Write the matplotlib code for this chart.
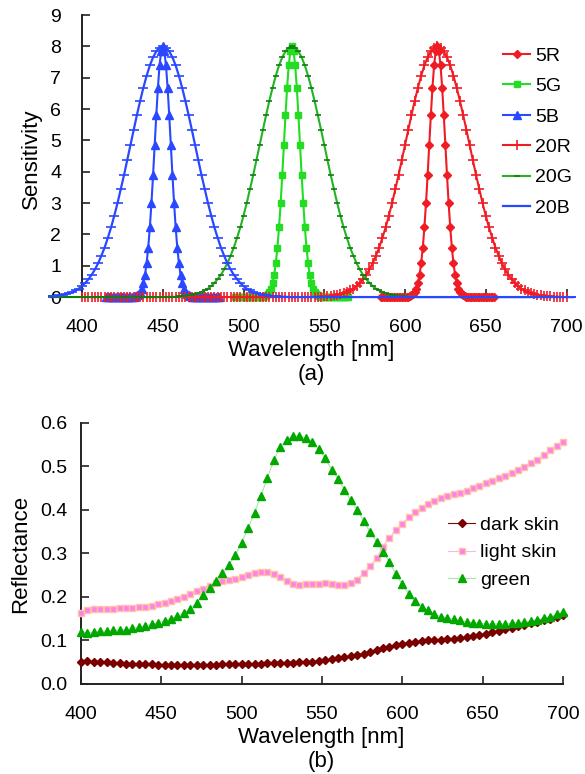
import numpy as np
import matplotlib
matplotlib.use('Agg')
import matplotlib.pyplot as plt

plt.rcParams['font.family'] = ['Liberation Sans', 'DejaVu Sans']

# ---- (a) sensor sensitivities ----
# narrow curves (5): 1 nm steps, +-35 nm around the peak
wl_5R = np.arange(585, 656)
wl_5G = np.arange(495, 566)
wl_5B = np.arange(415, 486)
sens_5 = [0, 0, 0, 0, 0, 0, 0, 0, 0, 0,
          0, 0, 0, 0, 0, 0, 0.01, 0.01, 0.02, 0.05,
          0.09, 0.16, 0.27, 0.45, 0.71, 1.08, 1.58, 2.22, 3.00, 3.89,
          4.85, 5.81, 6.68, 7.39, 7.84, 8.00, 7.84, 7.39, 6.68, 5.81,
          4.85, 3.89, 3.00, 2.22, 1.58, 1.08, 0.71, 0.45, 0.27, 0.16,
          0.09, 0.05, 0.02, 0.01, 0.01, 0, 0, 0, 0, 0,
          0, 0, 0, 0, 0, 0, 0, 0, 0, 0, 0]

# wide curves (20): 2 nm steps
wl_20R = np.arange(400, 701, 2)
sens_20R = [0, 0, 0, 0, 0, 0, 0, 0, 0, 0,
            0, 0, 0, 0, 0, 0, 0, 0, 0, 0,
            0, 0, 0, 0, 0, 0, 0, 0, 0, 0,
            0, 0, 0, 0, 0, 0, 0, 0, 0, 0,
            0, 0, 0, 0, 0, 0, 0, 0, 0, 0,
            0, 0, 0, 0, 0, 0, 0, 0, 0, 0,
            0, 0, 0, 0, 0, 0, 0, 0, 0, 0,
            0, 0, 0.01, 0.01, 0.01, 0.02, 0.02, 0.03, 0.05, 0.07,
            0.09, 0.12, 0.16, 0.21, 0.27, 0.35, 0.45, 0.57, 0.71, 0.88,
            1.08, 1.32, 1.58, 1.89, 2.22, 2.60, 3.00, 3.44, 3.89, 4.37,
            4.85, 5.34, 5.81, 6.26, 6.68, 7.06, 7.39, 7.65, 7.84, 7.96,
            8.00, 7.96, 7.84, 7.65, 7.39, 7.06, 6.68, 6.26, 5.81, 5.34,
            4.85, 4.37, 3.89, 3.44, 3.00, 2.60, 2.22, 1.89, 1.58, 1.32,
            1.08, 0.88, 0.71, 0.57, 0.45, 0.35, 0.27, 0.21, 0.16, 0.12,
            0.09, 0.07, 0.05, 0.03, 0.02, 0.02, 0.01, 0.01, 0.01, 0,
            0]

wl_20G = np.arange(380, 705, 2)
sens_20G = [0, 0, 0, 0, 0, 0, 0, 0, 0, 0,
            0, 0, 0, 0, 0, 0, 0, 0, 0, 0,
            0, 0, 0, 0, 0, 0, 0, 0, 0, 0,
            0, 0, 0, 0, 0, 0, 0, 0.01, 0.01, 0.01,
            0.02, 0.02, 0.03, 0.05, 0.07, 0.09, 0.12, 0.16, 0.21, 0.27,
            0.35, 0.45, 0.57, 0.71, 0.88, 1.08, 1.32, 1.58, 1.89, 2.22,
            2.60, 3.00, 3.44, 3.89, 4.37, 4.85, 5.34, 5.81, 6.26, 6.68,
            7.06, 7.39, 7.65, 7.84, 7.96, 8.00, 7.96, 7.84, 7.65, 7.39,
            7.06, 6.68, 6.26, 5.81, 5.34, 4.85, 4.37, 3.89, 3.44, 3.00,
            2.60, 2.22, 1.89, 1.58, 1.32, 1.08, 0.88, 0.71, 0.57, 0.45,
            0.35, 0.27, 0.21, 0.16, 0.12, 0.09, 0.07, 0.05, 0.03, 0.02,
            0.02, 0.01, 0.01, 0.01, 0, 0, 0, 0, 0, 0,
            0, 0, 0, 0, 0, 0, 0, 0, 0, 0,
            0, 0, 0, 0, 0, 0, 0, 0, 0, 0,
            0, 0, 0, 0, 0, 0, 0, 0, 0, 0,
            0, 0, 0, 0, 0, 0, 0, 0, 0, 0,
            0, 0, 0]

wl_20B = np.arange(380, 705, 2)
sens_20B = [0.02, 0.02, 0.03, 0.05, 0.07, 0.09, 0.12, 0.16, 0.21, 0.27,
            0.35, 0.45, 0.57, 0.71, 0.88, 1.08, 1.32, 1.58, 1.89, 2.22,
            2.60, 3.00, 3.44, 3.89, 4.37, 4.85, 5.34, 5.81, 6.26, 6.68,
            7.06, 7.39, 7.65, 7.84, 7.96, 8.00, 7.96, 7.84, 7.65, 7.39,
            7.06, 6.68, 6.26, 5.81, 5.34, 4.85, 4.37, 3.89, 3.44, 3.00,
            2.60, 2.22, 1.89, 1.58, 1.32, 1.08, 0.88, 0.71, 0.57, 0.45,
            0.35, 0.27, 0.21, 0.16, 0.12, 0.09, 0.07, 0.05, 0.03, 0.02,
            0.02, 0.01, 0.01, 0.01, 0, 0, 0, 0, 0, 0,
            0, 0, 0, 0, 0, 0, 0, 0, 0, 0,
            0, 0, 0, 0, 0, 0, 0, 0, 0, 0,
            0, 0, 0, 0, 0, 0, 0, 0, 0, 0,
            0, 0, 0, 0, 0, 0, 0, 0, 0, 0,
            0, 0, 0, 0, 0, 0, 0, 0, 0, 0,
            0, 0, 0, 0, 0, 0, 0, 0, 0, 0,
            0, 0, 0, 0, 0, 0, 0, 0, 0, 0,
            0, 0, 0, 0, 0, 0, 0, 0, 0, 0,
            0, 0, 0]

# ---- (b) patch reflectances, 4 nm steps ----
wl_refl = np.arange(400, 701, 4)
dark_skin = [0.051, 0.052, 0.051, 0.050, 0.050, 0.049, 0.048, 0.047, 0.047, 0.046,
             0.045, 0.045, 0.044, 0.044, 0.044, 0.044, 0.044, 0.044, 0.044, 0.044,
             0.044, 0.044, 0.045, 0.045, 0.045, 0.046, 0.046, 0.047, 0.047, 0.048,
             0.048, 0.048, 0.049, 0.049, 0.050, 0.051, 0.051, 0.052, 0.054, 0.057,
             0.059, 0.062, 0.064, 0.067, 0.070, 0.074, 0.078, 0.082, 0.086, 0.089,
             0.092, 0.095, 0.097, 0.099, 0.100, 0.101, 0.102, 0.103, 0.104, 0.106,
             0.108, 0.110, 0.113, 0.116, 0.119, 0.122, 0.126, 0.129, 0.133, 0.136,
             0.140, 0.143, 0.146, 0.150, 0.154, 0.159]
light_skin = [0.163, 0.169, 0.172, 0.173, 0.173, 0.173, 0.175, 0.175, 0.175, 0.176,
              0.178, 0.180, 0.184, 0.186, 0.190, 0.195, 0.199, 0.207, 0.214, 0.218,
              0.226, 0.233, 0.237, 0.239, 0.242, 0.247, 0.251, 0.254, 0.258, 0.258,
              0.253, 0.247, 0.237, 0.231, 0.228, 0.229, 0.231, 0.231, 0.232, 0.230,
              0.228, 0.228, 0.232, 0.240, 0.255, 0.271, 0.289, 0.316, 0.336, 0.354,
              0.368, 0.384, 0.395, 0.404, 0.413, 0.421, 0.427, 0.432, 0.436, 0.440,
              0.444, 0.450, 0.455, 0.461, 0.467, 0.473, 0.478, 0.484, 0.491, 0.499,
              0.507, 0.516, 0.526, 0.537, 0.548, 0.557]
green = [0.120, 0.118, 0.119, 0.121, 0.122, 0.123, 0.124, 0.125, 0.128, 0.131,
         0.134, 0.137, 0.141, 0.145, 0.150, 0.156, 0.163, 0.172, 0.187, 0.205,
         0.220, 0.236, 0.254, 0.273, 0.296, 0.325, 0.358, 0.394, 0.432, 0.474,
         0.514, 0.545, 0.561, 0.570, 0.570, 0.565, 0.556, 0.540, 0.519, 0.493,
         0.472, 0.446, 0.422, 0.400, 0.375, 0.349, 0.327, 0.304, 0.280, 0.253,
         0.229, 0.208, 0.191, 0.178, 0.169, 0.161, 0.155, 0.152, 0.149, 0.146,
         0.143, 0.141, 0.140, 0.138, 0.138, 0.138, 0.138, 0.140, 0.141, 0.143,
         0.145, 0.148, 0.151, 0.155, 0.160, 0.165]

RED = '#f01c24'
GRN = '#22dd22'
GRN2 = '#22b422'
BLU = '#2a48ff'

fig = plt.figure(figsize=(5.85, 7.74), dpi=100)

def style_axes(ax, ylo, yhi, ypad):
    for s in ['top', 'right']:
        ax.spines[s].set_visible(False)
    ax.spines['left'].set_position(('data', 400))
    ax.spines['bottom'].set_position(('data', 0))
    ax.spines['left'].set_bounds(ylo, yhi)
    ax.spines['bottom'].set_bounds(400, 700)
    for s in ['left', 'bottom']:
        ax.spines[s].set_linewidth(1.4)
        ax.spines[s].set_color('#222222')
        ax.spines[s].set_zorder(1)
    ax.tick_params(direction='in', length=6, width=1.2, colors='#222222',
                   labelsize=14, labelcolor='black')
    ax.tick_params(axis='x', pad=16)
    ax.tick_params(axis='y', pad=ypad)
    ax.set_xticks(np.arange(400, 701, 50))

# top panel
ax1 = fig.add_axes([0.0822, 0.6081, 0.900, 0.3725])
ax1.plot(wl_5R, sens_5, color=RED, lw=1.5, marker='D', ms=4.5, label='5R', zorder=3)
ax1.plot(wl_5G, sens_5, color=GRN, lw=1.5, marker='s', ms=4.5, label='5G', zorder=3)
ax1.plot(wl_5B, sens_5, color=BLU, lw=1.5, marker='^', ms=5.5, label='5B', zorder=3)
ax1.plot(wl_20R, sens_20R, color=RED, lw=1.5, marker='+', ms=7, mew=1.2,
         label='20R', zorder=3)
ax1.plot(wl_20G, sens_20G, color=GRN2, lw=1.5, marker='_', ms=4, mew=1.2,
         mec='#137a13', label='20G', zorder=3)
ax1.plot(wl_20B, sens_20B, color=BLU, lw=1.6, marker='_', ms=7, mew=1.2,
         label='20B', zorder=3)
ax1.set_xlim(379, 705)
ax1.set_ylim(-0.2, 9.0)
ax1.set_yticks(range(0, 10))
style_axes(ax1, 0, 9, 15)
ax1.set_xlabel('Wavelength [nm]\n(a)', fontsize=16, labelpad=3, linespacing=1.15)
ax1.set_ylabel('Sensitivity', fontsize=16, labelpad=6)
ax1.legend(loc='upper left', bbox_to_anchor=(503 / 585, 1 - 47 / 774),
           bbox_transform=fig.transFigure, frameon=False, fontsize=14,
           handlelength=1.4, handletextpad=0.25, labelspacing=0.66,
           borderpad=0, borderaxespad=0)

# bottom panel
ax2 = fig.add_axes([0.1275, 0.1163, 0.8444, 0.3372])
ax2.plot(wl_refl, dark_skin, color='#7a0a0a', lw=0.8, marker='D', ms=4.5,
         mfc='#7a0000', mec='#7a0000', label='dark skin', zorder=3)
ax2.plot(wl_refl, light_skin, color='#f6b8e8', lw=0.8, marker='s', ms=4.5,
         mfc='#ff80e6', mec='#ffc4a8', mew=1.0, label='light skin', zorder=3)
ax2.plot(wl_refl, green, color='#a6e6a6', lw=0.8, marker='^', ms=6,
         mfc='#00a800', mec='#00a800', label='green', zorder=3)
ax2.set_xlim(396, 703.5)
ax2.set_ylim(0, 0.6)
ax2.set_yticks(np.arange(0, 0.61, 0.1))
ax2.set_yticklabels(['0.0', '0.1', '0.2', '0.3', '0.4', '0.5', '0.6'])
style_axes(ax2, 0, 0.6, 10)
ax2.set_xlabel('Wavelength [nm]\n(b)', fontsize=16, labelpad=3, linespacing=1.15)
ax2.set_ylabel('Reflectance', fontsize=16, labelpad=6)
ax2.legend(loc='upper left', bbox_to_anchor=(448 / 585, 1 - 516 / 774),
           bbox_transform=fig.transFigure, frameon=False, fontsize=14,
           handlelength=1.4, handletextpad=0.25, labelspacing=0.52,
           borderpad=0, borderaxespad=0)

fig.savefig('out.png', dpi=100)
